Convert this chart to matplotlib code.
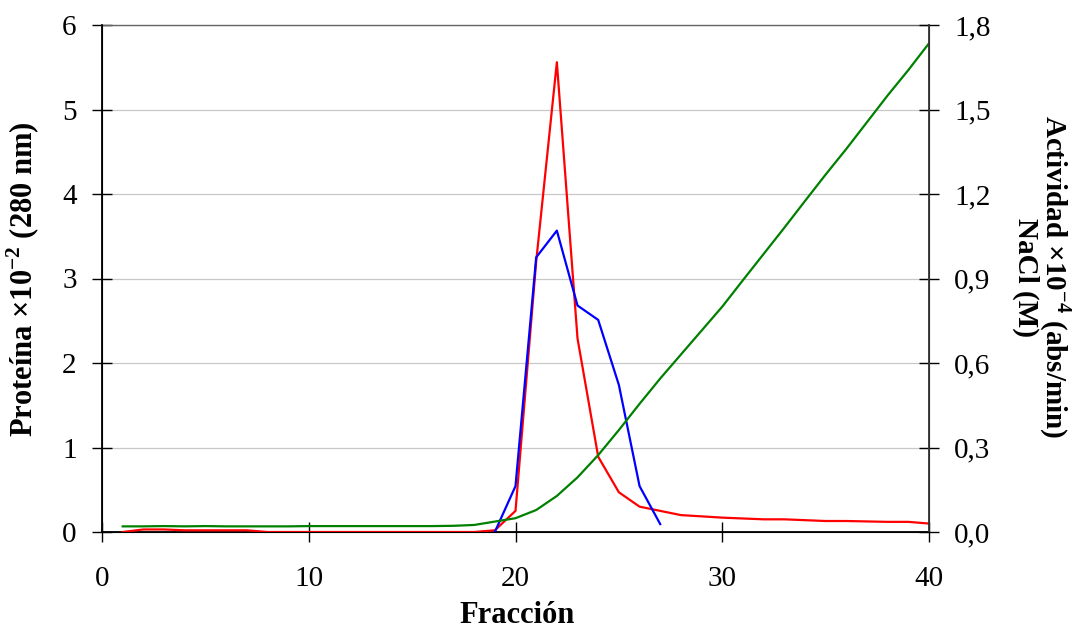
import matplotlib
matplotlib.use("Agg")
import matplotlib.pyplot as plt
from matplotlib.ticker import FuncFormatter, MultipleLocator

plt.rcParams['font.family'] = ['Liberation Serif', 'DejaVu Serif']
plt.rcParams['mathtext.fontset'] = 'custom'
plt.rcParams['mathtext.rm'] = 'Liberation Serif'
plt.rcParams['mathtext.bf'] = 'Liberation Serif:bold'

# fracciones recogidas
fracciones = list(range(1, 41))

# proteína (A280 x 10^-2), eje izquierdo
proteina = [0.0, 0.03, 0.03, 0.02, 0.02, 0.02, 0.02, 0.0, 0.0, 0.0,
            0.0, 0.0, 0.0, 0.0, 0.0, 0.0, 0.0, 0.0, 0.02, 0.25,
            3.2, 5.56, 2.29, 0.89, 0.47, 0.30, 0.25, 0.20, 0.185, 0.17,
            0.16, 0.15, 0.15, 0.14, 0.13, 0.13, 0.125, 0.12, 0.12, 0.10]

# actividad (abs/min x 10^-4), eje derecho
frac_actividad = [19, 20, 21, 22, 23, 24, 25, 26, 27]
actividad = [0.0, 0.163, 0.975, 1.07, 0.804, 0.753, 0.522, 0.163, 0.028]

# gradiente de NaCl (M), eje derecho
nacl = [0.020, 0.020, 0.021, 0.020, 0.021, 0.020, 0.020, 0.020, 0.020, 0.021,
        0.021, 0.021, 0.021, 0.021, 0.021, 0.021, 0.022, 0.025, 0.037, 0.049,
        0.078, 0.128, 0.194, 0.273, 0.362, 0.455, 0.545, 0.63, 0.715, 0.80,
        0.894, 0.987, 1.08, 1.175, 1.269, 1.36, 1.455, 1.55, 1.64, 1.735]

fig = plt.figure(figsize=(10.81, 6.30), dpi=100)
ax = fig.add_axes([102 / 1081, 1 - 532 / 630, (929 - 102) / 1081, (532 - 25) / 630])
ax2 = ax.twinx()

ax.plot(fracciones, proteina, color='#ff0000', lw=1.6, zorder=3)
ax2.plot(frac_actividad, actividad, color='#0000ff', lw=1.6)
ax2.plot(fracciones, nacl, color='#008000', lw=1.6)

ax.set_xlim(0, 40)
ax.set_ylim(0, 6)
ax2.set_ylim(0, 1.8)
ax.xaxis.set_major_locator(MultipleLocator(10))
ax.yaxis.set_major_locator(MultipleLocator(1))
ax2.yaxis.set_major_locator(MultipleLocator(0.3))
ax2.yaxis.set_major_formatter(FuncFormatter(lambda v, p: f"{v:.1f}".replace('.', ',')))

ax.yaxis.grid(True, color='#c8c8c8', lw=0.9)
ax.set_axisbelow(True)

for s in ['left', 'bottom']:
    ax.spines[s].set_color('black')
    ax.spines[s].set_linewidth(1.3)
ax.spines['top'].set_color('#666666')
ax.spines['top'].set_linewidth(1.0)
ax2.spines['right'].set_color('#333333')
ax2.spines['right'].set_linewidth(1.3)
ax2.spines['top'].set_visible(False)

ax.tick_params(axis='x', direction='inout', length=14.4, width=1.0, labelsize=21, pad=17)
ax.tick_params(axis='y', direction='inout', length=14.4, width=1.0, labelsize=21, pad=11)
ax2.tick_params(axis='y', direction='inout', length=14.4, width=1.0, labelsize=21, pad=11)

# títulos de los ejes
fig.text(0.478, 7 / 630, 'Fracción', ha='center', va='baseline', fontsize=22, fontweight='bold')
fig.text(33 / 1081, 1 - 279 / 630, r'Proteína ×10$^{\mathbf{-2}}$ (280 nm)', rotation=90,
         rotation_mode='anchor', ha='center', va='baseline', fontsize=22, fontweight='bold')
fig.text(1046 / 1081, 1 - 277 / 630, r'Actividad ×10$^{\mathbf{-4}}$ (abs/min)', rotation=270,
         rotation_mode='anchor', ha='center', va='baseline', fontsize=21, fontweight='bold')
fig.text(1018 / 1081, 1 - 277 / 630, 'NaCl (M)', rotation=270,
         rotation_mode='anchor', ha='center', va='baseline', fontsize=21, fontweight='bold')

fig.savefig('out.png', dpi=100)
